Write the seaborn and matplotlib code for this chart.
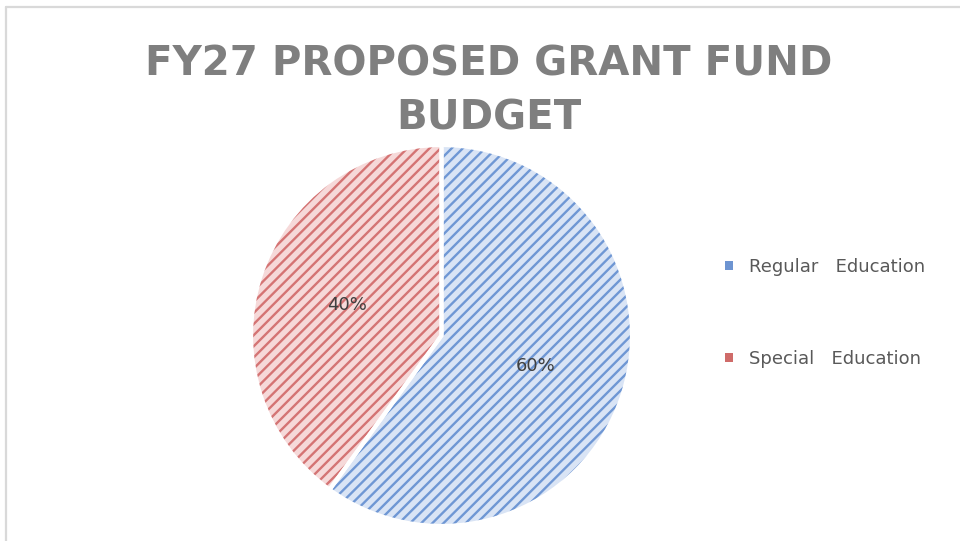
import matplotlib
matplotlib.use("Agg")
import matplotlib.pyplot as plt
from matplotlib.lines import Line2D
from matplotlib.patches import Patch
import seaborn as sns

# Budget split
categories = ["Regular   Education", "Special   Education"]
shares = [60, 40]
title_lines = ["FY27 PROPOSED GRANT FUND", "BUDGET"]

sns.set_theme(style="white")
plt.rcParams["font.family"] = ["DejaVu Sans"]
plt.rcParams["hatch.linewidth"] = 1.7

hatch_colors = ["#6f97d4", "#d47474"]
face_colors = ["#d9e4f5", "#f6d9d9"]
legend_colors = ["#6d94d1", "#cf6b69"]

W, H = 960, 541
fig = plt.figure(figsize=(W / 100, H / 100), dpi=100)

# chart-area border (top and left edges visible)
fig.add_artist(Line2D([5.5 / W, 5.5 / W], [0, 1 - 6.5 / H], color="#d9d9d9", lw=1.6))
fig.add_artist(Line2D([5.5 / W, 1], [1 - 6.5 / H, 1 - 6.5 / H], color="#d9d9d9", lw=1.6))

cx, cy, r = 441.5, 335.5, 190.5
ax = fig.add_axes([(cx - r) / W, (H - cy - r) / H, 2 * r / W, 2 * r / H])

wedges, _, autotexts = ax.pie(
    shares, startangle=90, counterclock=False, colors=face_colors,
    autopct="%d%%", pctdistance=0.52,
    wedgeprops=dict(linewidth=0),
    textprops=dict(fontsize=13, color="#404040"),
)
for w, hc in zip(wedges, hatch_colors):
    w.set_hatch("///")
    w.set_edgecolor(hc)
    w.set_linewidth(0)

# white separators between slices
ax.pie(shares, startangle=90, counterclock=False, colors=["none", "none"],
       wedgeprops=dict(linewidth=3, edgecolor="white", fill=False))
ax.set_xlim(-1.0, 1.0)
ax.set_ylim(-1.0, 1.0)
ax.set_aspect("equal")
ax.axis("off")

# title
fig.text(489 / W, 1 - 75 / H, title_lines[0], ha="center", va="baseline",
         fontsize=29, fontweight="bold", color="#7f7f7f")
fig.text(489 / W, 1 - 130 / H, title_lines[1], ha="center", va="baseline",
         fontsize=29, fontweight="bold", color="#7f7f7f")

handles = [Patch(facecolor=lc, linewidth=0) for lc in legend_colors]
fig.legend(handles, categories, loc="center left",
           bbox_to_anchor=(709 / W, 1 - 313 / H), frameon=False,
           fontsize=13, labelcolor="#595959", handlelength=0.45,
           handleheight=0.45, handletextpad=0.85, labelspacing=4.1)

fig.savefig("out.png", dpi=100)
